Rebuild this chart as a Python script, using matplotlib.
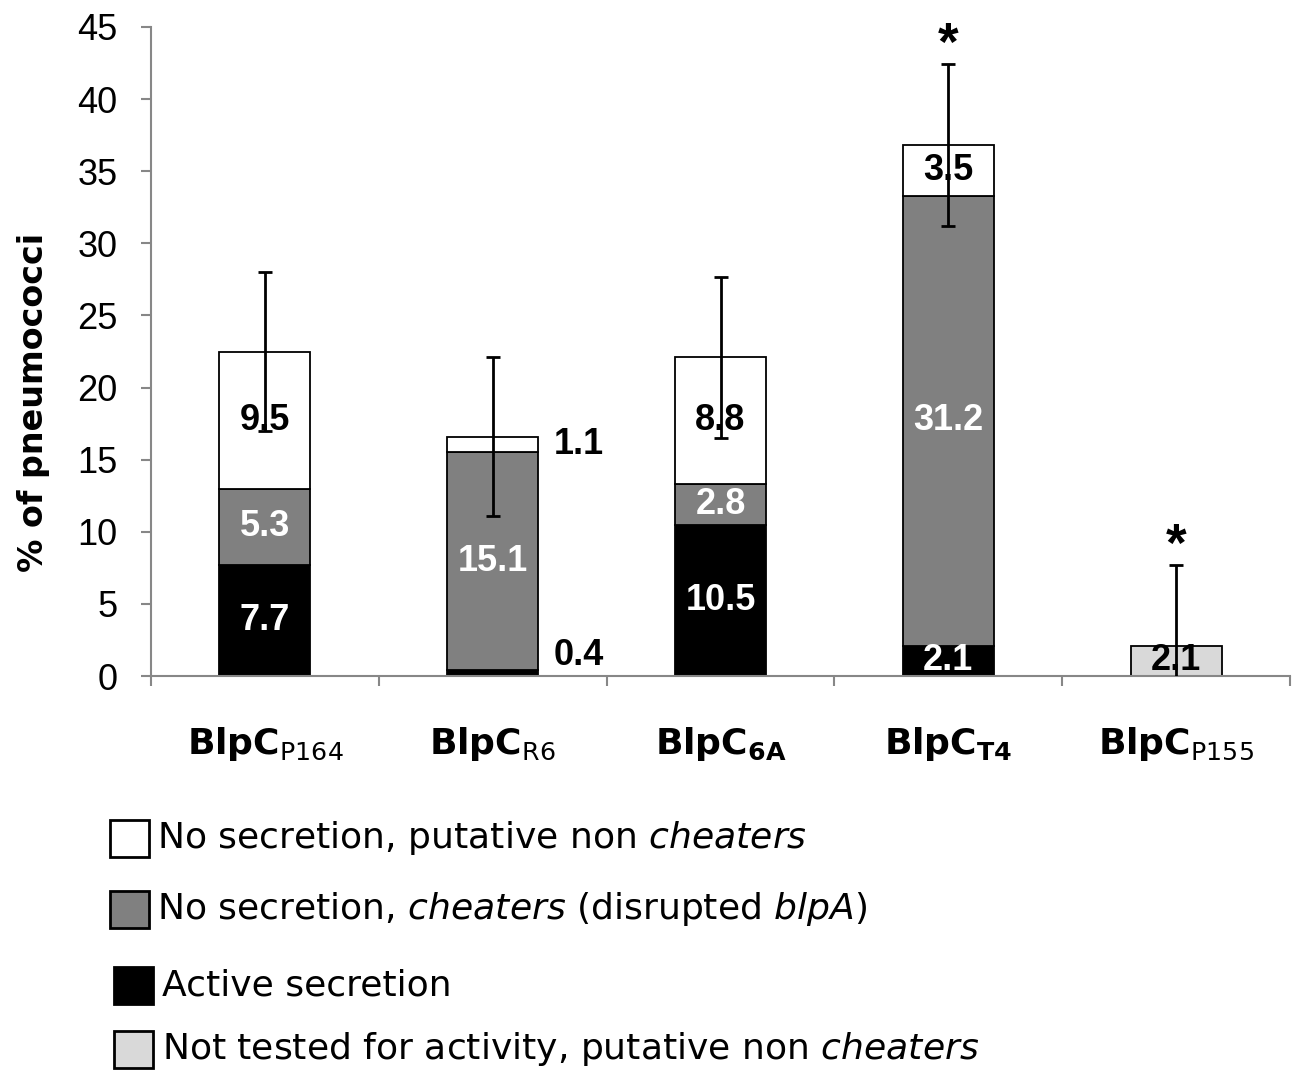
import matplotlib
matplotlib.use('Agg')
from matplotlib import pyplot as plt
from matplotlib.patches import Rectangle
import numpy as np

plt.rcParams['font.family'] = ['DejaVu Sans']
plt.rcParams['mathtext.fontset'] = 'dejavusans'

# data
strains = ['P164', 'R6', '6A', 'T4', 'P155']
bold_sub = [False, False, True, True, False]
active = [7.7, 0.4, 10.5, 2.1, 0]
cheaters = [5.3, 15.1, 2.8, 31.2, 0]
non_cheaters = [9.5, 1.1, 8.8, 3.5, 0]
not_tested = [0, 0, 0, 0, 2.1]
err = [5.5, 5.5, 5.6, 5.6, 5.6]
signif = [False, False, False, True, True]
outside = [False, True, False, False, False]  # thin segments labelled beside the bar

legend_labels = ['No secretion, putative non $\\mathit{cheaters}$',
                 'No secretion, $\\mathit{cheaters}$ (disrupted $\\mathit{blpA}$)',
                 'Active secretion',
                 'Not tested for activity, putative non $\\mathit{cheaters}$']

W, H = 1292, 1074
fig = plt.figure(figsize=(W / 100, H / 100), dpi=100)
ax = fig.add_axes([151 / W, 1 - 676 / H, (1290 - 151) / W, (676 - 27) / H])

x = np.arange(len(strains))
width = 0.4
series = [(active, 'black', 'white'),
          (cheaters, '#808080', 'white'),
          (non_cheaters, 'white', 'black'),
          (not_tested, '#d9d9d9', 'black')]

bottom = np.zeros(len(strains))
for vals, col, tcol in series:
    vals = np.array(vals, dtype=float)
    for i in range(len(strains)):
        v = vals[i]
        if v <= 0:
            continue
        ax.bar(x[i], v, width, bottom=bottom[i], color=col, edgecolor='black',
               linewidth=1.3, zorder=2)
        if outside[i] and v < 2:
            ax.text(x[i] + width / 2 + 0.066, max(bottom[i] + v / 2, 1.45), f'{v:.1f}',
                    ha='left', va='center', fontsize=26, fontweight='bold',
                    family='Liberation Sans', color='black', zorder=4)
        else:
            ax.text(x[i], bottom[i] + v / 2, f'{v:.1f}', ha='center', va='center',
                    fontsize=26, fontweight='bold', family='Liberation Sans',
                    color=tcol, zorder=4)
    bottom += vals

totals = bottom
ax.errorbar(x, totals, yerr=err, fmt='none', ecolor='black', elinewidth=2,
            capsize=5, capthick=2, zorder=5)

for i in range(len(strains)):
    if signif[i]:
        ax.annotate('*', (x[i], totals[i] + err[i]), xytext=(0, 13),
                    textcoords='offset points', ha='center', va='center',
                    fontsize=38, fontweight='bold', family='Liberation Sans')

ax.set_xlim(-0.5, 4.5)
ax.set_ylim(0, 45)
ax.set_yticks(np.arange(0, 46, 5))
ax.set_yticklabels([str(v) for v in range(0, 46, 5)], family='Liberation Sans', fontsize=26)

ax.set_xticks(np.arange(-0.5, 4.6, 1))
ax.set_xticklabels([])
ax.set_xticks(x, minor=True)
cat_labels = []
for s, b in zip(strains, bold_sub):
    if b:
        cat_labels.append('$\\mathbf{BlpC}_{\\mathbf{%s}}$' % s)
    else:
        cat_labels.append('$\\mathbf{BlpC}_{\\mathrm{%s}}$' % s)
ax.set_xticklabels(cat_labels, minor=True, fontsize=26)

for sp in ['top', 'right']:
    ax.spines[sp].set_visible(False)
for sp in ['left', 'bottom']:
    ax.spines[sp].set_color('#878787')
    ax.spines[sp].set_linewidth(1.5)
ax.tick_params(axis='y', direction='out', length=7, width=1.5, color='#878787', pad=17)
ax.tick_params(axis='x', which='major', direction='out', length=7, width=1.5, color='#878787')
ax.tick_params(axis='x', which='minor', length=0, pad=35)

ax.set_ylabel('% of pneumococci', fontsize=24, fontweight='bold')
ax.yaxis.set_label_coords(-0.0887, 0.422)

# legend drawn below the chart
leg_colors = ['white', '#808080', 'black', '#d9d9d9']
row_y = [838, 909, 985, 1049]
box_x = [110, 110, 114, 114]
text_x = [157, 157, 162, 162]
bw, bh = 39, 37
for lab, col, yc, bx, tx in zip(legend_labels, leg_colors, row_y, box_x, text_x):
    fig.add_artist(Rectangle((bx / W, 1 - (yc + bh / 2) / H), bw / W, bh / H,
                             transform=fig.transFigure, facecolor=col,
                             edgecolor='black', linewidth=2))
    fig.text(tx / W, 1 - yc / H, lab, ha='left', va='center', fontsize=26)

fig.savefig('out.png', dpi=100)
